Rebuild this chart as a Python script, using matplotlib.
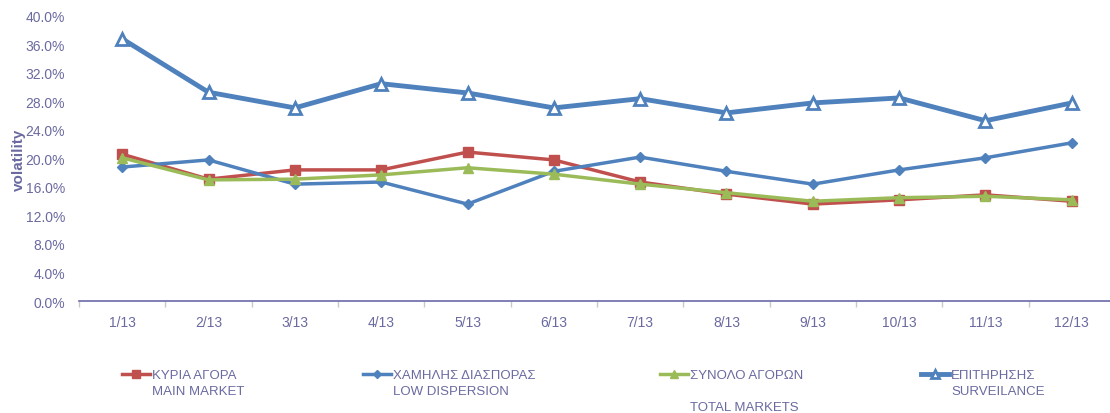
import numpy as np
import matplotlib
matplotlib.use("Agg")
import matplotlib.pyplot as plt
from matplotlib.ticker import FuncFormatter, FixedLocator

plt.rcParams['font.family'] = ['Liberation Sans', 'DejaVu Sans']

# data (volatility, %)
months = ["1/13", "2/13", "3/13", "4/13", "5/13", "6/13",
          "7/13", "8/13", "9/13", "10/13", "11/13", "12/13"]
main_market = [20.6, 17.1, 18.4, 18.4, 20.9, 19.8, 16.7, 15.0, 13.6, 14.2, 14.9, 14.0]
low_dispersion = [18.8, 19.8, 16.4, 16.7, 13.6, 18.2, 20.2, 18.2, 16.4, 18.4, 20.1, 22.2]
total_markets = [20.1, 17.0, 17.1, 17.7, 18.7, 17.8, 16.4, 15.2, 14.0, 14.5, 14.7, 14.2]
surveillance = [36.8, 29.3, 27.1, 30.5, 29.2, 27.1, 28.4, 26.4, 27.8, 28.5, 25.3, 27.8]

label_lines = [
    ["ΚΥΡΙΑ ΑΓΟΡΑ", "MAIN MARKET"],
    ["ΧΑΜΗΛΗΣ ΔΙΑΣΠΟΡΑΣ", "LOW DISPERSION"],
    ["ΣΥΝΟΛΟ ΑΓΟΡΩΝ", "", "TOTAL MARKETS"],
    ["ΕΠΙΤΗΡΗΣΗΣ", "SURVEILANCE"],
]

txt = '#6A6AA0'
red, blue, green = '#C0504D', '#4F81BD', '#9BBB59'
fs = 10
lfs = 9.5

fig = plt.figure(figsize=(11.1, 4.14), dpi=100)
ax = fig.add_axes([79 / 1110, 1 - 302 / 414, (1115 - 79) / 1110, 285 / 414])

x = np.arange(len(months))
h1, = ax.plot(x, main_market, color=red, lw=2.5, marker='s', ms=7, zorder=3)
h2, = ax.plot(x, low_dispersion, color=blue, lw=2.5, marker='D', ms=5.5, zorder=3)
h3, = ax.plot(x, total_markets, color=green, lw=2.5, marker='^', ms=7, zorder=4)
h4, = ax.plot(x, surveillance, color=blue, lw=3.5, marker='^', ms=8,
              mfc='white', mec=blue, mew=2, zorder=3)

ax.set_xlim(-0.5, len(months) - 0.5)
ax.set_ylim(0, 40)
ax.set_yticks(np.arange(0, 41, 4))
ax.yaxis.set_major_formatter(FuncFormatter(lambda v, p: f"{v:.1f}%"))
ax.set_xticks(x)
ax.set_xticklabels(months)
ax.xaxis.set_minor_locator(FixedLocator(np.arange(-0.5, len(months), 1)))

for s in ['top', 'right', 'left']:
    ax.spines[s].set_visible(False)
ax.spines['bottom'].set_color('#6A6AA8')
ax.spines['bottom'].set_linewidth(1.2)

ax.tick_params(axis='y', length=0, pad=10, labelsize=fs, labelcolor=txt)
ax.tick_params(axis='x', which='major', length=0, pad=10, labelsize=fs, labelcolor=txt)
ax.tick_params(axis='x', which='minor', length=4, color='#C8C8D0', width=1)

ax.set_ylabel("volatility", color=txt, fontsize=11, fontweight='bold', labelpad=0)

# legend, one entry per column
handle_x = [122, 363, 660, 921]
for h, lines, hx in zip([h1, h2, h3, h4], label_lines, handle_x):
    fig.legend(handles=[h], labels=[lines[0]], loc='center left',
               bbox_to_anchor=(hx / 1110, 1 - 376 / 414), frameon=False,
               borderpad=0, borderaxespad=0, handlelength=2.1, handletextpad=0.15,
               fontsize=lfs, labelcolor=txt, markerscale=0.8)
    for i, extra in enumerate(lines[1:]):
        if extra:
            fig.text((hx + 30) / 1110, 1 - (376 + 16 * (i + 1)) / 414, extra,
                     color=txt, fontsize=lfs, va='center', ha='left')

fig.savefig("out.png", dpi=100)
